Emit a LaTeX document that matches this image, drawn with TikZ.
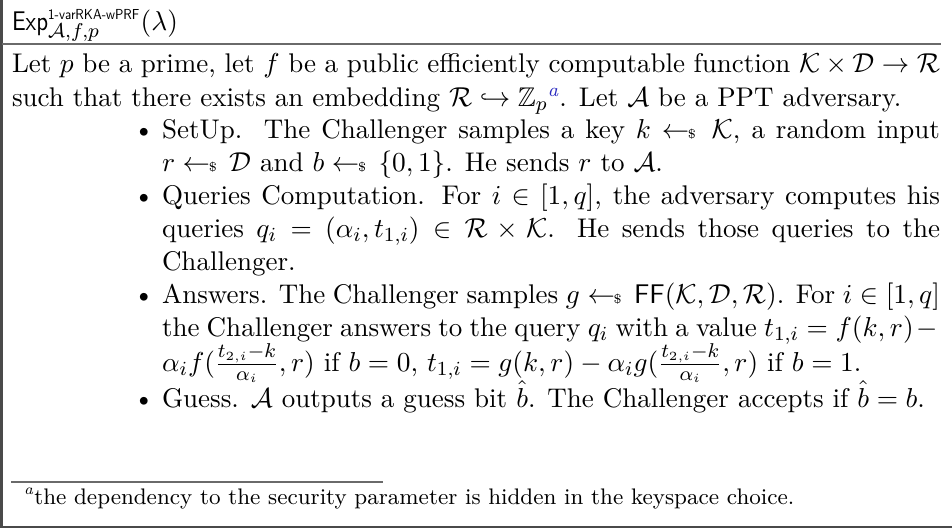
\documentclass[tikz,border=0pt]{standalone}
\usepackage{amsmath,amssymb}
\usepackage{graphicx}
\usepackage{fontspec}
\usepackage{xcolor}

% sampling arrow with a small dollar sign
\newcommand{\samp}{\mathrel{\leftarrow\!\!{\scriptscriptstyle\$}\,}}
% footnote mark: italic superscript letter
\newcommand{\fnmark}[1]{\textsuperscript{\itshape #1}}
\definecolor{linkblue}{HTML}{2A2AC0}
\definecolor{rulegray}{HTML}{6A6A6A}
\definecolor{framegray}{HTML}{4A4A4A}

% widths of the justified lines (1 unit = 0.4pt)
\newlength{\bodyw}\setlength{\bodyw}{371.2pt}
\newlength{\itemw}\setlength{\itemw}{311.2pt}

\begin{document}
\begin{tikzpicture}[x=0.4pt,y=-0.4pt,
  font=\fontsize{10.8}{13}\selectfont,
  txt/.style={inner sep=0pt,outer sep=0pt,anchor=base west},
  bul/.style={inner sep=0pt,outer sep=0pt,anchor=base},
  hrule/.style={draw=rulegray,line width=0.7pt},
  frame/.style={draw=framegray,line width=0.8pt},
  fnrule/.style={draw=rulegray,line width=0.5pt}]
\useasboundingbox (0,0) rectangle (952,529);

% frame of the game box (left and bottom sides)
\draw[frame] (952,527) -- (1.5,527) -- (1.5,0);

% title of the experiment
\node[txt] (title) at (12,30)
  {$\text{\scalebox{0.85}[1]{\sffamily Exp}}^{\text{\fontsize{5.8}{7}\selectfont\scalebox{0.85}[1]{\sffamily 1-varRKA-wPRF}}}_{\mathcal{A},f,p}(\lambda)$};
\draw[hrule] (1.5,44) -- (941,44);

% introduction
\node[txt] (l1) at (12,72)
  {\hbox to \bodyw{Let $p$ be a prime, let $f$ be a public efficiently computable function $\mathcal{K}\times\mathcal{D}\rightarrow\mathcal{R}$}};
\node[txt] (l2) at (12,106)
  {such that there exists an embedding $\mathcal{R}\hookrightarrow\mathbb{Z}_p$\textsuperscript{\color{linkblue}\itshape a}. Let $\mathcal{A}$ be a PPT adversary.};

% SetUp
\node[bul] (b1) at (144,138) {\textbullet};
\node[txt] (s1) at (162,138)
  {\hbox to \itemw{SetUp.\ \ The Challenger samples a key $k \samp \mathcal{K}$, a random input}};
\node[txt] (s2) at (162,171)
  {$r \samp \mathcal{D}$ and $b \samp \{0,1\}$. He sends $r$ to $\mathcal{A}$.};

% Queries computation
\node[bul] (b2) at (144,204) {\textbullet};
\node[txt] (q1) at (162,204)
  {\hbox to \itemw{Queries Computation. For $i\in[1,q]$, the adversary computes his}};
\node[txt] (q2) at (162,237)
  {\hbox to \itemw{queries $q_i = (\alpha_i, t_{1,i}) \in \mathcal{R}\times\mathcal{K}$. He sends those queries to the}};
\node[txt] (q3) at (162,270) {Challenger.};

% Answers
\node[bul] (b3) at (144,303) {\textbullet};
\node[txt] (a1) at (162,303)
  {\hbox to \itemw{Answers. The Challenger samples $g \samp \mathsf{FF}(\mathcal{K},\mathcal{D},\mathcal{R})$. For $i\in[1,q]$}};
\node[txt] (a2) at (162,336)
  {\hbox to \itemw{the Challenger answers to the query $q_i$ with a value $t_{1,i} = f(k,r) -{}$}};
\node[txt] (a3) at (162,371)
  {$\alpha_i f(\frac{t_{2,i}-k}{\alpha_i}, r)$ if $b=0$, $t_{1,i} = g(k,r) - \alpha_i g(\frac{t_{2,i}-k}{\alpha_i}, r)$ if $b = 1$.};

% Guess
\node[bul] (b4) at (144,407) {\textbullet};
\node[txt] (g1) at (162,407)
  {Guess. $\mathcal{A}$ outputs a guess bit $\hat{b}$. The Challenger accepts if $\hat{b} = b$.};

% footnote
\draw[fnrule] (11,482) -- (383,482);
\node[txt] (fn) at (24,504)
  {\fontsize{9}{11}\selectfont\fnmark{a}the dependency to the security parameter is hidden in the keyspace choice.};
\end{tikzpicture}
\end{document}
